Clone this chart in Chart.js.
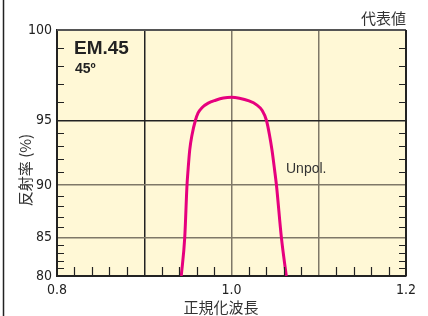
<!DOCTYPE html>
<html>
<head>
<meta charset="utf-8">
<script src="https://cdn.jsdelivr.net/npm/chart.js@4.4.0/dist/chart.umd.min.js"></script>
<style>
  html, body { margin: 0; padding: 0; background: #fff; }
  canvas { display: block; }
</style>
</head>
<body>
<canvas id="grafica" width="428" height="316"></canvas>
<script>
// datos
const wavelength = [0.9424, 0.9464, 0.949, 0.9502, 0.9521, 0.9548, 0.9586, 0.9617, 0.9664, 0.9733, 0.9818, 0.9907, 1.0, 1.009, 1.0201, 1.0284, 1.0352, 1.0401, 1.0435, 1.0464, 1.0494, 1.0515, 1.0572, 1.0628];
const unpol = [80, 85, 90, 91.16, 92.71, 93.9, 95, 95.42, 95.72, 95.96, 96.12, 96.24, 96.28, 96.23, 96.08, 95.88, 95.55, 95, 93.9, 92.71, 91.16, 90, 85, 80];
const yLabels = [80, 85, 90, 95, 100];
const xLabels = [0.8, 1.0, 1.2];
const xGrid = [0.9, 1.0, 1.1];

// eje Y por tramos (cada tramo de 5% tiene su propia altura)
const yBreaks = [80, 85, 90, 95, 100];
const yBreakPos = [0, 0.1557, 0.37, 0.632, 1];

function toFrac(v) {
  let i = 0;
  while (i < yBreaks.length - 2 && v > yBreaks[i + 1]) i++;
  const t = (v - yBreaks[i]) / (yBreaks[i + 1] - yBreaks[i]);
  return yBreakPos[i] + t * (yBreakPos[i + 1] - yBreakPos[i]);
}
function fromFrac(f) {
  let i = 0;
  while (i < yBreakPos.length - 2 && f > yBreakPos[i + 1]) i++;
  const t = (f - yBreakPos[i]) / (yBreakPos[i + 1] - yBreakPos[i]);
  return yBreaks[i] + t * (yBreaks[i + 1] - yBreaks[i]);
}

class SegmentScale extends Chart.LinearScale {
  getPixelForValue(value) {
    if (value === null || value === undefined || isNaN(value)) return NaN;
    return this.getPixelForDecimal(toFrac(value));
  }
  getValueForPixel(pixel) {
    return fromFrac(this.getDecimalForPixel(pixel));
  }
}
SegmentScale.id = 'segment';
SegmentScale.defaults = Chart.LinearScale.defaults;
Chart.register(SegmentScale);

const NARROW = "'Liberation Sans Narrow', 'DejaVu Sans Condensed', 'Roboto Condensed', sans-serif";
const CJK = "'Noto Sans CJK JP', sans-serif";
const GRIS = '#7f7868';
const OSCURO = '#222';

const extras = {
  id: 'extras',
  beforeDraw(chart) {
    const { ctx, chartArea: a } = chart;
    ctx.save();
    ctx.fillStyle = '#fff8d6';
    ctx.fillRect(a.left, a.top, a.right - a.left, a.bottom - a.top);
    ctx.restore();
  },
  afterDraw(chart) {
    const { ctx, chartArea: a, scales } = chart;
    const x = scales.x, y = scales.y;
    ctx.save();
    ctx.strokeStyle = OSCURO;
    ctx.lineWidth = 1.2;
    // marcas menores Y (izq. y der.)
    for (let v = 81; v < 100; v++) {
      if (v % 5 === 0) continue;
      const py = Math.round(y.getPixelForValue(v)) + 0.5;
      ctx.beginPath();
      ctx.moveTo(a.left, py); ctx.lineTo(a.left + 7, py);
      ctx.moveTo(a.right, py); ctx.lineTo(a.right - 7, py);
      ctx.stroke();
    }
    // marcas menores X (abajo)
    for (let k = 41; k < 60; k++) {
      if (k % 5 === 0) continue;
      const px = Math.round(x.getPixelForValue(k / 50)) + 0.5;
      ctx.beginPath();
      ctx.moveTo(px, a.bottom); ctx.lineTo(px, a.bottom - 9);
      ctx.stroke();
    }
    // marco superior y derecho
    ctx.lineWidth = 2;
    ctx.strokeStyle = '#555';
    ctx.beginPath();
    ctx.moveTo(a.left, a.top); ctx.lineTo(a.right, a.top);
    ctx.stroke();
    ctx.strokeStyle = OSCURO;
    ctx.beginPath();
    ctx.moveTo(a.right, a.top); ctx.lineTo(a.right, a.bottom);
    ctx.stroke();
    // borde izquierdo de la figura
    ctx.lineWidth = 1.5;
    ctx.beginPath();
    ctx.moveTo(3.5, 0); ctx.lineTo(3.5, chart.height);
    ctx.stroke();

    // textos
    ctx.fillStyle = OSCURO;
    ctx.textBaseline = 'middle';
    ctx.textAlign = 'left';
    ctx.font = "bold 19px 'Liberation Sans', Arial, sans-serif";
    ctx.fillText('EM.45', 74, 49);
    ctx.font = "bold 14px 'Liberation Sans', Arial, sans-serif";
    ctx.fillText('45º', 75, 69);
    ctx.fillStyle = '#333';
    ctx.font = "14px 'Liberation Sans', Arial, sans-serif";
    ctx.fillText('Unpol.', 286, 169);
    ctx.font = '15px ' + CJK;
    ctx.textAlign = 'right';
    ctx.fillText('代表値', 406, 18);
    ctx.textAlign = 'center';
    ctx.fillText('正規化波長', 221, 307);
    ctx.translate(25, 170);
    ctx.rotate(-Math.PI / 2);
    ctx.fillText('反射率 (%)', 0, 0);
    ctx.restore();
  }
};

new Chart(document.getElementById('grafica'), {
  type: 'line',
  data: {
    datasets: [{
      data: wavelength.map((w, i) => ({ x: w, y: unpol[i] })),
      borderColor: '#e6007e',
      borderWidth: 3,
      pointRadius: 0,
      cubicInterpolationMode: 'monotone',
      fill: false
    }]
  },
  options: {
    responsive: false,
    animation: false,
    devicePixelRatio: 1,
    layout: { padding: { left: 0, right: 22, top: 30, bottom: 0 } },
    plugins: { legend: { display: false }, tooltip: { enabled: false } },
    scales: {
      x: {
        type: 'linear',
        min: 0.8,
        max: 1.2,
        afterFit: s => { s.height = 40; },
        afterBuildTicks: s => { s.ticks = [0.8, 0.9, 1.0, 1.1, 1.2].map(v => ({ value: v })); },
        ticks: {
          autoSkip: false,
          maxRotation: 0,
          padding: 6,
          color: OSCURO,
          font: { family: NARROW, size: 14 },
          callback: v => xLabels.some(l => Math.abs(l - v) < 1e-6) ? v.toFixed(1) : ''
        },
        grid: {
          drawTicks: false,
          color: c => {
            const v = Math.round(c.tick.value * 10) / 10;
            if (!xGrid.includes(v)) return 'rgba(0,0,0,0)';
            return v === 0.9 ? OSCURO : GRIS;
          },
          lineWidth: 1.5
        },
        border: { display: true, color: OSCURO, width: 2 }
      },
      y: {
        type: 'segment',
        min: 80,
        max: 100,
        afterFit: s => { s.width = 57; },
        afterBuildTicks: s => { s.ticks = yLabels.map(v => ({ value: v })); },
        ticks: {
          autoSkip: false,
          padding: 5,
          color: OSCURO,
          font: { family: NARROW, size: 14 },
          callback: v => v
        },
        grid: {
          drawTicks: false,
          color: c => {
            const v = c.tick.value;
            if (v === 80 || v === 100) return 'rgba(0,0,0,0)';
            return v === 95 ? OSCURO : GRIS;
          },
          lineWidth: 1.5
        },
        border: { display: true, color: OSCURO, width: 2 }
      }
    }
  },
  plugins: [extras]
});
</script>
</body>
</html>
